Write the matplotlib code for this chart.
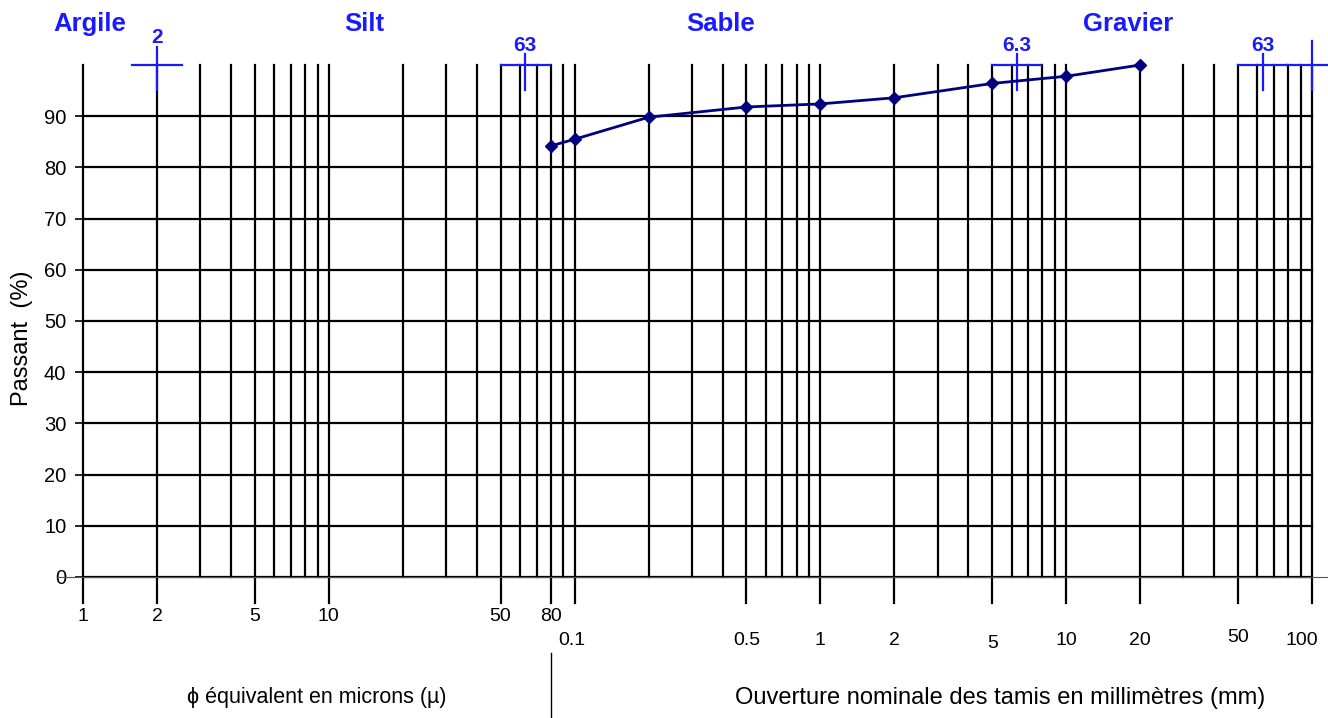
import matplotlib
matplotlib.use("Agg")
import matplotlib.pyplot as plt
from matplotlib.lines import Line2D

plt.rcParams['font.family'] = ['Liberation Sans', 'DejaVu Sans']

# Sieve sizes (in microns) and cumulative passing percentages
sizes_um = [80, 100, 200, 500, 1000, 2000, 5000, 10000, 20000]
passing = [84.2, 85.5, 89.8, 91.8, 92.4, 93.6, 96.4, 97.8, 100.0]

# Vertical grid positions (microns) over 1 µm .. 100 mm
grid_x = [m * 10.0 ** e for e in range(0, 5) for m in range(1, 10)] + [1e5]
y_grid = list(range(0, 100, 10))

# Bottom labels: micron scale then millimetre scale
micron_ticks = [1, 2, 5, 10, 50, 80]
micron_labels = ["1", "2", "5", "10", "50", "80"]
mm_ticks = [0.1, 0.5, 1, 2, 5, 10, 20, 50, 100]
mm_labels = ["0.1", "0.5", "1", "2", "5", "10", "20", "50", "100"]

# Soil classes and their boundary markers (microns)
classes = ["Argile", "Silt", "Sable", "Gravier"]
class_x = [1.07, 13.9, 391, 17800]
bounds_um = [2, 63, 6300, 63000, 100000]
bounds_lbl = ["2", "63", "6.3", "63", ""]

W, H = 1328, 718
fig = plt.figure(figsize=(W / 100, H / 100), dpi=100)
ax = fig.add_axes([83 / W, 1 - 577 / H, (1312 - 83) / W, (577 - 65) / H])
ax.set_xscale("log")
ax.set_xlim(1, 1e5)
ax.set_ylim(0, 100)
for s in ax.spines.values():
    s.set_visible(False)

black = "black"
blue = "#1a1aff"
navy = "#000080"

labelled = set(micron_ticks) | {t * 1000 for t in mm_ticks}
for gx in grid_x:
    lo = -5.1 if any(abs(gx - t) < 1e-6 for t in labelled) else 0
    ax.plot([gx, gx], [lo, 100], color=black, lw=1.6, clip_on=False, zorder=2)
for gy in y_grid:
    ax.plot([1, 1e5], [gy, gy], color=black, lw=1.6, clip_on=False, zorder=2)

ax.set_xticks([])
ax.set_yticks(y_grid)
ax.set_yticklabels([str(v) for v in y_grid], fontsize=14.5)
ax.tick_params(axis="y", length=6, width=1.2, pad=6)
ax.minorticks_off()

# thin baseline through the zero label
fig.add_artist(Line2D([57 / W, 1.0], [1 - 577 / H, 1 - 577 / H],
                      color="#555555", lw=0.8, zorder=1))

# bottom scale labels
for t, l in zip(micron_ticks, micron_labels):
    ax.text(t, -7.8, l, ha="center", va="center", fontsize=14)
mm_y = [-12.4, -12.4, -12.4, -12.4, -13.0, -12.4, -12.4, -11.8, -12.4]
mm_dx = [0.972, 1, 1, 1, 1, 1, 1, 1, 0.91]
for t, l, yy, dx in zip(mm_ticks, mm_labels, mm_y, mm_dx):
    ax.text(t * 1000 * dx, yy, l, ha="center", va="center", fontsize=14)

ax.plot([80, 80], [-14.8, -27.6], color=black, lw=1.0, clip_on=False)
ax.text(10 ** ((317 - 83) / 245.8), -23.6, "ϕ équivalent en microns (µ)",
        ha="center", va="center", fontsize=15.5)
ax.text(10 ** ((1000 - 83) / 245.8), -23.6,
        "Ouverture nominale des tamis en millimètres (mm)",
        ha="center", va="center", fontsize=17)
fig.text(22 / W, 1 - 338 / H, "Passant  (%)", rotation=90,
         ha="center", va="center", fontsize=17)

# class titles
for name, cx in zip(classes, class_x):
    ax.text(cx, 108, name, ha="center", va="center", fontsize=18.5,
            fontweight="bold", color=blue, clip_on=False)

# class boundary markers
half = 10 ** 0.1
for i, (b, lbl) in enumerate(zip(bounds_um, bounds_lbl)):
    ax.plot([b / half, b * half], [100, 100], color=blue, lw=1.6,
            clip_on=False, zorder=4)
    top = 103.5 if i == 0 else (104.7 if lbl == "" else 102.1)
    ax.plot([b, b], [95.2, top], color=blue, lw=1.6, clip_on=False, zorder=4)
    if lbl:
        ax.text(b, 105.3 if i == 0 else 103.9, lbl, ha="center", va="center",
                fontsize=15, fontweight="bold", color=blue, clip_on=False)

# grading curve
ax.plot(sizes_um, passing, color=navy, lw=2.0, marker="D", markersize=6.5,
        markerfacecolor=navy, markeredgecolor=navy, clip_on=False, zorder=5)

fig.savefig("out.png", dpi=100, facecolor="white")
